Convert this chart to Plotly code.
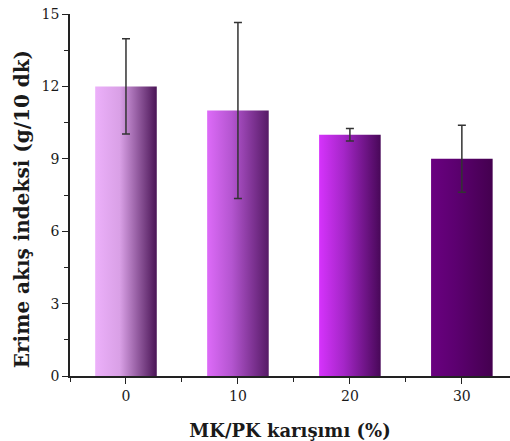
import plotly.graph_objects as go

categories = ["0", "10", "20", "30"]
values = [12.0, 11.0, 10.0, 9.0]
errors = [1.97, 3.65, 0.26, 1.39]
left_colors = ["#ECB0FA", "#DD6BF8", "#D633FC", "#6A0080"]
mid_colors = ["#D9A0E6", "#B455D0", "#A526C8", "#5C0070"]
right_colors = ["#4A1456", "#561A66", "#480858", "#44004F"]

bar_width = 0.55
xpos = list(range(len(categories)))

fig = go.Figure()
for i, (cat, v) in enumerate(zip(categories, values)):
    x0, x1 = xpos[i] - bar_width / 2, xpos[i] + bar_width / 2
    fig.add_trace(go.Scatter(
        x=[x0, x1, x1, x0, x0], y=[0, 0, v, v, 0],
        mode="lines", line=dict(width=0), fill="toself",
        fillgradient=dict(type="horizontal",
                          colorscale=[[0, left_colors[i]], [0.4, mid_colors[i]], [1, right_colors[i]]]),
        showlegend=False, hoverinfo="skip", name=cat))

fig.add_trace(go.Scatter(
    x=xpos, y=values, mode="markers", marker=dict(size=0.1, color="rgba(0,0,0,0)"),
    error_y=dict(type="data", array=errors, visible=True, color="#333333", thickness=1.5, width=4),
    showlegend=False))

font_family = "DejaVu Serif"
fig.update_layout(
    width=510, height=441,
    margin=dict(l=70, r=0, t=14, b=65),
    plot_bgcolor="white", paper_bgcolor="white",
    font=dict(family=font_family, color="#1a1a1a", size=14),
    xaxis=dict(
        range=[-0.5, 3.43], tickmode="array", tickvals=xpos, ticktext=categories,
        showgrid=False, zeroline=False, showline=True, linecolor="#222222", linewidth=1.6,
        ticks="outside", ticklen=6, tickwidth=1.3, tickcolor="#222222",
        minor=dict(tickvals=[-0.5, 0.5, 1.5, 2.5], ticks="outside", ticklen=4, tickwidth=1.3, tickcolor="#222222"),
        tickfont=dict(size=14, color="#1a1a1a"),
        title=dict(text="<b>MK/PK karışımı (%)</b>", font=dict(size=18), standoff=22),
    ),
    yaxis=dict(
        range=[0, 15], tickmode="linear", tick0=0, dtick=3,
        showgrid=False, zeroline=False, showline=True, linecolor="#222222", linewidth=1.6,
        ticks="outside", ticklen=6, tickwidth=1.3, tickcolor="#222222",
        minor=dict(dtick=1.5, ticks="outside", ticklen=4, tickwidth=1.3, tickcolor="#222222"),
        tickfont=dict(size=14, color="#1a1a1a"),
    ),
    annotations=[dict(
        text="<b>Erime akış indeksi (g/10 dk)</b>", textangle=-90,
        xref="paper", yref="paper", x=-0.109, y=0.461, xanchor="center", yanchor="middle",
        showarrow=False, font=dict(size=20, family=font_family, color="#1a1a1a"))],
)

fig.write_html("out.html")
